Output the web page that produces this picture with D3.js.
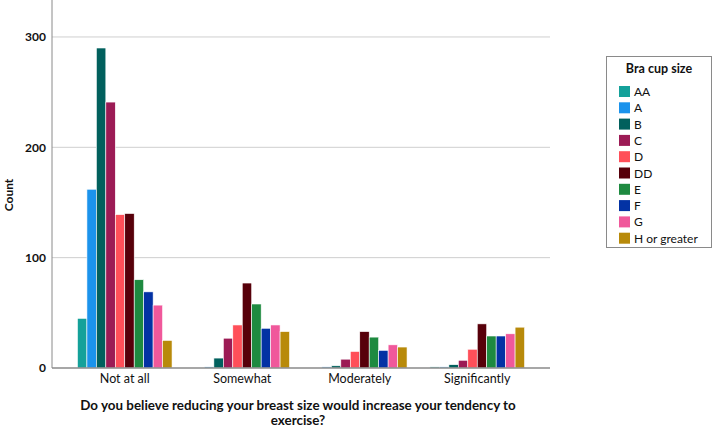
<!DOCTYPE html>
<html lang="en">
<head>
<meta charset="UTF-8">
<title>Bra cup size</title>
<script src="https://d3js.org/d3.v7.min.js"></script>
<style>
  body { margin: 0; background: #fff; }
  text { font-family: Lato, "Open Sans", sans-serif; fill: #111; }
</style>
</head>
<body>
<script>
// data
var answers = ["Not at all", "Somewhat", "Moderately", "Significantly"];
var sizes = ["AA", "A", "B", "C", "D", "DD", "E", "F", "G", "H or greater"];
var sizeColors = ["#14a19a", "#1b93ec", "#01605d", "#9c1b55", "#ff4f59",
                  "#57000a", "#1e8a40", "#0332a4", "#f0589b", "#b88a0a"];
// counts per answer, one value per cup size
var notAtAll      = [45, 162, 290, 241, 139, 140, 80, 69, 57, 25];
var somewhat      = [0, 1, 9, 27, 39, 77, 58, 36, 39, 33];
var moderately    = [0, 1, 2, 8, 15, 33, 28, 16, 21, 19];
var significantly = [1, 1, 3, 7, 17, 40, 29, 29, 31, 37];
var yTicks = [0, 100, 200, 300];

var counts = [notAtAll, somewhat, moderately, significantly];

var w = 714, h = 426;
var plotL = 52, plotR = 550, plotT = 0, plotB = 368;

var svg = d3.select("body").append("svg")
    .attr("width", w)
    .attr("height", h);

var x0 = d3.scaleBand()
    .domain(answers)
    .range([plotL + 14, plotR - 14])
    .paddingInner(0.195)
    .paddingOuter(0.0975);

var x1 = d3.scaleBand()
    .domain(sizes)
    .range([0, x0.bandwidth()]);

var y = d3.scaleLinear()
    .domain([0, 333.5])
    .range([plotB, plotT]);

var color = d3.scaleOrdinal().domain(sizes).range(sizeColors);

// gridlines
svg.append("g")
    .selectAll("line")
    .data(yTicks.filter(function(d){ return d > 0; }))
    .enter()
    .append("line")
    .attr("x1", plotL)
    .attr("x2", plotR)
    .attr("y1", function(d){ return y(d); })
    .attr("y2", function(d){ return y(d); })
    .attr("stroke", "#cfcfcf")
    .attr("stroke-width", 1);

// bars
var groups = svg.append("g")
    .selectAll("g")
    .data(answers)
    .enter()
    .append("g")
    .attr("transform", function(d){ return "translate(" + x0(d) + ",0)"; });

groups.selectAll("rect")
    .data(function(d, i){
        return counts[i].map(function(v, j){ return {size: sizes[j], value: v}; });
    })
    .enter()
    .append("rect")
    .attr("x", function(d){ return x1(d.size); })
    .attr("width", x1.bandwidth())
    .attr("y", function(d){ return y(d.value); })
    .attr("height", function(d){ return y(0) - y(d.value); })
    .attr("fill", function(d){ return color(d.size); })
    .attr("stroke", "#fff")
    .attr("stroke-width", 0.6);

// axes
var yAxis = svg.append("g")
    .attr("transform", "translate(" + plotL + ",0)")
    .call(d3.axisLeft(y).tickValues(yTicks).tickSize(0).tickPadding(6));
yAxis.select(".domain").remove();
yAxis.selectAll("text").style("font-size", "12px").style("font-weight", "bold");

svg.append("line")
    .attr("x1", plotL).attr("x2", plotL)
    .attr("y1", 0).attr("y2", plotB)
    .attr("stroke", "#8a8a8a");

var xAxis = svg.append("g")
    .attr("transform", "translate(0," + plotB + ")")
    .call(d3.axisBottom(x0).tickSize(0).tickPadding(6));
xAxis.select(".domain").remove();
xAxis.selectAll("text").style("font-size", "12.5px");

svg.append("line")
    .attr("x1", plotL).attr("x2", plotR)
    .attr("y1", plotB).attr("y2", plotB)
    .attr("stroke", "#8a8a8a")
    .attr("stroke-width", 1.5);

// axis titles
svg.append("text")
    .attr("transform", "translate(13,195) rotate(-90)")
    .attr("text-anchor", "middle")
    .style("font-size", "12px")
    .style("font-weight", "bold")
    .text("Count");

svg.append("text")
    .attr("x", 298).attr("y", 410)
    .attr("text-anchor", "middle")
    .style("font-size", "13.4px")
    .style("font-weight", "bold")
    .text("Do you believe reducing your breast size would increase your tendency to");

svg.append("text")
    .attr("x", 298).attr("y", 424.5)
    .attr("text-anchor", "middle")
    .style("font-size", "13.4px")
    .style("font-weight", "bold")
    .text("exercise?");

// legend
var legend = svg.append("g");
legend.append("rect")
    .attr("x", 606.5).attr("y", 56.5)
    .attr("width", 105).attr("height", 191)
    .attr("fill", "#fff")
    .attr("stroke", "#8a8a8a");

legend.append("text")
    .attr("x", 659).attr("y", 73)
    .attr("text-anchor", "middle")
    .style("font-size", "12.5px")
    .style("font-weight", "bold")
    .text("Bra cup size");

var items = legend.selectAll("g.item")
    .data(sizes)
    .enter()
    .append("g")
    .attr("class", "item")
    .attr("transform", function(d, i){ return "translate(619," + (86 + i * 16.3) + ")"; });

items.append("rect")
    .attr("width", 11).attr("height", 11)
    .attr("fill", function(d){ return color(d); });

items.append("text")
    .attr("x", 15).attr("y", 10)
    .style("font-size", "12px")
    .text(function(d){ return d; });
</script>
</body>
</html>
